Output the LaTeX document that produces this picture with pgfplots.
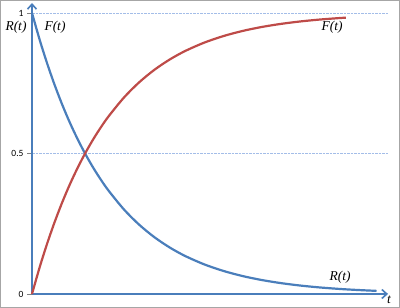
\documentclass[border=0pt]{standalone}
\usepackage{pgfplots}
\pgfplotsset{compat=1.18}
\usetikzlibrary{arrows.meta}
\usepackage{fontspec}
\setmainfont{Liberation Serif}
\newfontfamily\tickfont{Carlito}
\definecolor{rblue}{HTML}{4A7EBB}
\definecolor{fred}{HTML}{BE4B48}
\definecolor{gridblue}{HTML}{A3BDE8}
\pgfplotstableread{
t R F
0 1 0
0.1 0.9048 0.0952
0.2 0.8187 0.1813
0.3 0.7408 0.2592
0.4 0.6703 0.3297
0.5 0.6065 0.3935
0.6 0.5488 0.4512
0.7 0.4966 0.5034
0.8 0.4493 0.5507
0.9 0.4066 0.5934
1.0 0.3679 0.6321
1.2 0.3012 0.6988
1.4 0.2466 0.7534
1.6 0.2019 0.7981
1.8 0.1653 0.8347
2.0 0.1353 0.8647
2.25 0.1054 0.8946
2.5 0.0821 0.9179
2.75 0.0639 0.9361
3.0 0.0498 0.9502
3.25 0.0388 0.9612
3.5 0.0302 0.9698
3.75 0.0235 0.9765
4.0 0.0183 0.9817
4.1 0.0166 0.9834
}\datatable
\begin{document}
\begin{tikzpicture}[x=1pt,y=1pt]
\useasboundingbox (0,0) rectangle (400,308);
\draw[gray!70, line width=0.8pt] (0.5,0.5) rectangle (399.5,307.5);
\begin{axis}[
  at={(32pt,14pt)}, anchor=south west,
  scale only axis,
  width=356pt, height=291pt,
  xmin=0, xmax=4.65, ymin=0, ymax=1.0356,
  axis lines=left,
  axis line style={rblue, line width=1.6pt, -{Straight Barb[length=5pt,width=9pt]}},
  xtick=\empty,
  ytick={0,0.5,1},
  yticklabels={0,0.5,1},
  yticklabel style={font=\tickfont\fontsize{9.5}{10}\selectfont, text=black},
  /pgf/number format/assume math mode=true,
  major tick length=5pt,
  tick align=outside,
  ymajorgrids,
  grid style={gridblue, dash pattern=on 2.5pt off 1pt, line width=1pt},
  clip=false,
]
\addplot[rblue, line width=2.2pt, smooth] table[x=t,y=R] {\datatable};
\addplot[rblue, line width=2.2pt, smooth, forget plot] coordinates {(4.1,0.0166) (4.25,0.0143) (4.5,0.0111)};
\addplot[fred, line width=2.2pt, smooth] table[x=t,y=F] {\datatable};
\end{axis}
\node[font=\fontsize{13.5}{15}\selectfont\itshape] at (16,281) {R(t)};
\node[font=\fontsize{13.5}{15}\selectfont\itshape] at (55,281) {F(t)};
\node[font=\fontsize{13.5}{15}\selectfont\itshape] at (332,281) {F(t)};
\node[font=\fontsize{13.5}{15}\selectfont\itshape] at (340,31) {R(t)};
\node[font=\fontsize{13.5}{15}\selectfont\itshape] at (389,8) {t};
\end{tikzpicture}
\end{document}
